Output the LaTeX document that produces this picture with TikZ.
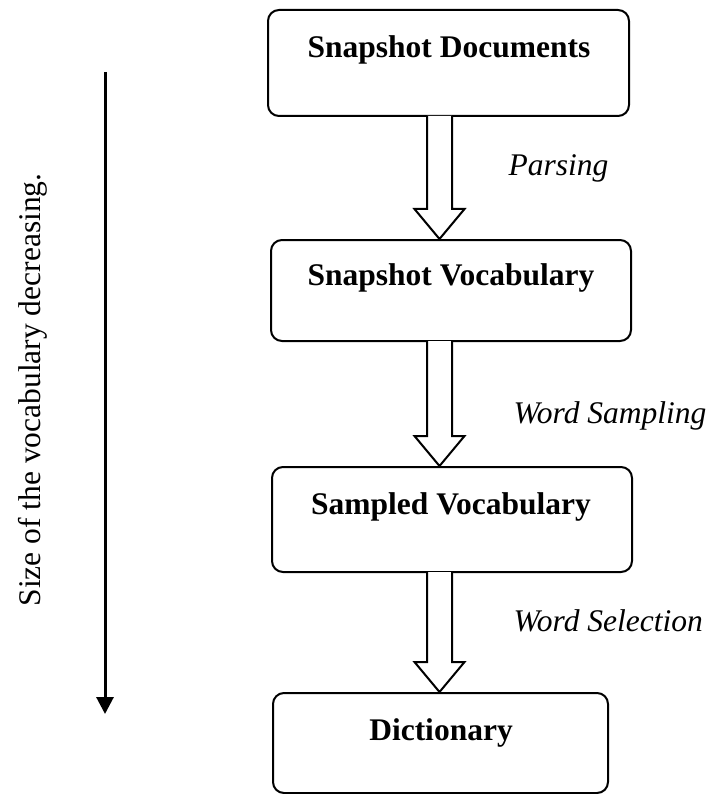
\documentclass[tikz,border=0pt]{standalone}
\usepackage{fontspec}
\setmainfont{Liberation Serif}
\usetikzlibrary{arrows.meta,calc}
\begin{document}
\begin{tikzpicture}[x=1pt,y=-1pt,
  stagebox/.style={draw=black,line width=2pt,rounded corners=11pt,inner sep=0pt},
  boxtext/.style={anchor=base,font=\fontsize{31.5}{38}\selectfont\bfseries},
  steplabel/.style={anchor=base west,font=\fontsize{31.5}{38}\selectfont\itshape},
  blockarrow/.style={draw=black,line width=2pt,fill=white,line join=miter},
  sidearrow/.style={line width=3pt,-{Triangle[length=17pt,width=17pt]}}]
\useasboundingbox (0,0) rectangle (708,794);
% boxes
\node[stagebox,minimum width=361pt,minimum height=106pt] (b1) at (448.5,63) {};
\node[stagebox,minimum width=360pt,minimum height=101pt] (b2) at (451,290.5) {};
\node[stagebox,minimum width=360pt,minimum height=105pt] (b3) at (452,519.5) {};
\node[stagebox,minimum width=335pt,minimum height=100pt] (b4) at (440.5,743) {};
% box texts
\node[boxtext] (t1) at (449,58) {Snapshot Documents};
\node[boxtext] (t2) at (451,285) {Snapshot Vocabulary};
\node[boxtext] (t3) at (451,514) {Sampled Vocabulary};
\node[boxtext] (t4) at (441,740) {Dictionary};
% block arrows
\coordinate (ax) at (439.5,0);
\foreach \a/\b in {b1/b2,b2/b3,b3/b4}{
  \draw[blockarrow] let \p1=(\a.south -| ax), \p2=(\b.north -| ax) in
    (\x1-12.5pt,\y1+1pt) -- (\x1-12.5pt,\y2+30pt) -- (\x1-25pt,\y2+30pt) -- (\x2,\y2)
    -- (\x1+25pt,\y2+30pt) -- (\x1+12.5pt,\y2+30pt) -- (\x1+12.5pt,\y1+1pt);
}
% step labels
\node[steplabel] (l1) at (505,176) {Parsing};
\node[steplabel] (l2) at (510,423) {Word Sampling};
\node[steplabel] (l3) at (510,631) {Word Selection};
% side arrow and text
\coordinate (s1) at (105,72);
\coordinate (s2) at (105,714);
\draw[sidearrow] (s1) -- (s2);
\node[anchor=base west,rotate=90,font=\fontsize{31.5}{38}\selectfont] (side) at (40,610) {Size of the vocabulary decreasing.};
\end{tikzpicture}
\end{document}
